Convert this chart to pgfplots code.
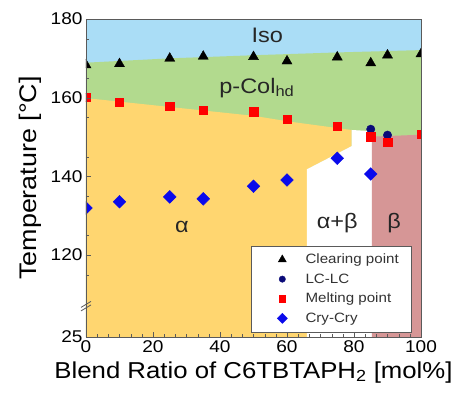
\documentclass[border=0pt]{standalone}
\usepackage{pgfplots}
\pgfplotsset{compat=1.18}
\usepackage{fontspec}
\setmainfont{Liberation Sans}[FakeStretch=1.12]
\definecolor{isoblue}{RGB}{170,221,246}
\definecolor{colgreen}{RGB}{178,218,142}
\definecolor{alphaor}{RGB}{255,214,112}
\definecolor{betapink}{RGB}{214,150,150}
\definecolor{axgray}{RGB}{90,90,90}
\definecolor{lcnavy}{RGB}{10,10,120}
\definecolor{crblue}{RGB}{10,10,235}
\begin{document}
\begin{tikzpicture}
\begin{axis}[name=ax, scale only axis, width=335pt, height=318pt,
  xmin=0, xmax=100, ymin=99.2, ymax=180,
  xtick={0,20,40,60,80,100}, minor x tick num=5,
  ytick={99.2,120,140,160,180}, yticklabels={25,120,140,160,180},
  minor ytick={115,125,135,145,155,165,175},
  tick align=inside, xtick pos=left, ytick pos=left,
  axis line style={axgray}, tick style={axgray},
  major tick length=5pt, minor tick length=3pt,
  /pgf/number format/assume math mode=true,
  tick label style={font=\fontsize{17}{17}\selectfont},
  xlabel={Blend Ratio of C6TBTAPH\textsubscript{2} [mol\%]},
  ylabel={Temperature [°C]},
  xlabel style={font=\fontsize{23}{23}\selectfont, yshift=-2pt},
  ylabel style={font=\fontsize{24}{24}\selectfont, yshift=2pt},
  clip mode=individual, clip marker paths=true,
  axis on top,
  legend style={at={(1,0)}, anchor=south east, xshift=-10pt, yshift=5pt,
    draw=axgray, font=\fontsize{13.5}{16}\selectfont, inner ysep=6pt, inner xsep=10pt,
    row sep=4.5pt, cells={anchor=west}, text=black!80},
]
% phase regions
\addplot[fill=isoblue, draw=none, forget plot] coordinates {(0,99.2)(0,180)(100,180)(100,99.2)} --cycle;
\addplot[fill=colgreen, draw=none, forget plot] coordinates {(0,99.2)(0,168.9)(25,170.0)(52,170.85)(75,171.5)(100,172.1)(100,99.2)} --cycle;
\addplot[fill=alphaor, draw=none, forget plot] coordinates {(0,99.2)(0,159.9)(50,155.4)(61,153.9)(79.3,151.8)(79.3,147.7)(65.9,141.8)(65.9,99.2)} --cycle;
\addplot[fill=white, draw=none, forget plot] coordinates {(65.9,99.2)(65.9,141.8)(79.3,147.7)(79.3,151.8)(85.3,151.5)(85.3,99.2)} --cycle;
\addplot[fill=betapink, draw=none, forget plot] coordinates {(85.3,99.2)(85.3,150.1)(100,150.6)(100,99.2)} --cycle;
% data
\addplot[only marks, mark=triangle*, mark size=5.8pt, black, forget plot] coordinates {
(0,168.3)(10,168.6)(25,170.0)(35,170.5)(50,170.4)(60,169.3)(75,170.3)(85,168.8)(90,170.8)(100,171.1)};
\addplot[only marks, mark=*, mark size=4.2pt, lcnavy, forget plot] coordinates {(85,152.0)(90,150.5)};
\addplot[only marks, mark=square*, mark size=4.2pt, red, forget plot] coordinates {
(0,160.1)(10,158.9)(25,157.9)(35,156.8)(50,156.4)(60,154.5)(75,152.8)(85,150.1)(90,148.7)(100,150.7)};
\addplot[only marks, mark=square*, mark size=4.5pt, mark options={rotate=45}, crblue, forget plot] coordinates {
(0,132.0)(10,133.55)(25,134.8)(35,134.3)(50,137.5)(60,139.1)(75,144.6)(85,140.6)};
% legend
\addlegendimage{legend image code/.code={\path (0pt,0pt) (42pt,0pt); \draw[black] plot[only marks, mark=triangle*, mark size=4.6pt] coordinates {(21pt,0pt)};}}
\addlegendentry{Clearing point}
\addlegendimage{legend image code/.code={\path (0pt,0pt) (42pt,0pt); \draw[lcnavy] plot[only marks, mark=*, mark size=3.2pt] coordinates {(21pt,0pt)};}}
\addlegendentry{LC-LC}
\addlegendimage{legend image code/.code={\path (0pt,0pt) (42pt,0pt); \draw[red] plot[only marks, mark=square*, mark size=3.2pt] coordinates {(21pt,0pt)};}}
\addlegendentry{Melting point}
\addlegendimage{legend image code/.code={\path (0pt,0pt) (42pt,0pt); \draw[crblue] plot[only marks, mark=square*, mark size=3.6pt, mark options={rotate=45}] coordinates {(21pt,0pt)};}}
\addlegendentry{Cry-Cry}
% phase labels
\node[font=\fontsize{21}{21}\selectfont, text=black!85] at (axis cs:54.1,175.9) {Iso};
\node[font=\fontsize{21}{21}\selectfont, text=black!85, anchor=base] at (axis cs:51,161.1) {p-Col\textsubscript{hd}};
\node[font=\fontsize{21}{21}\selectfont, text=black!85] at (axis cs:28.6,127.2) {α};
\node[font=\fontsize{21}{21}\selectfont, text=black!85] at (axis cs:75,128.1) {α+β};
\node[font=\fontsize{21}{21}\selectfont, text=black!85] at (axis cs:92,128.1) {β};
% axis break
\draw[axgray, line width=0.8pt] (axis cs:0,107.1) ++(-5pt,-5pt) -- ++(10pt,6pt);
\draw[axgray, line width=0.8pt] (axis cs:0,107.1) ++(-5pt,-1.5pt) -- ++(10pt,6pt);
\end{axis}
\pgfresetboundingbox
\path ([xshift=-86pt,yshift=-61pt]ax.south west) rectangle ([xshift=37pt,yshift=19pt]ax.north east);
\end{tikzpicture}
\end{document}
